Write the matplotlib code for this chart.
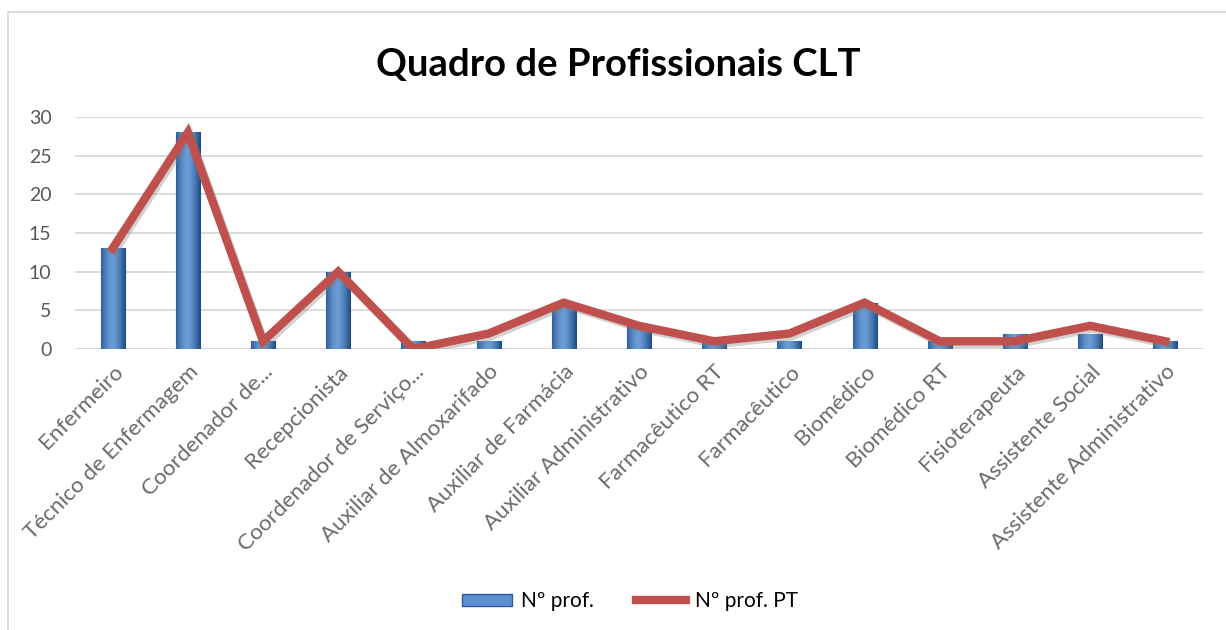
import matplotlib
matplotlib.use("Agg")
import matplotlib.pyplot as plt
import numpy as np
import matplotlib.patheffects as pe
from matplotlib.lines import Line2D
from matplotlib.colors import LinearSegmentedColormap

categories = ["Enfermeiro", "Técnico de Enfermagem", "Coordenador de...", "Recepcionista",
              "Coordenador de Serviço...", "Auxiliar de Almoxarifado", "Auxiliar de Farmácia",
              "Auxiliar Administrativo", "Farmacêutico RT", "Farmacêutico", "Biomédico",
              "Biomédico RT", "Fisioterapeuta", "Assistente Social", "Assistente Administrativo"]
n_prof = [13, 28, 1, 10, 1, 1, 6, 3, 1, 1, 6, 1, 2, 2, 1]
n_prof_pt = [13, 28, 1, 10, 0, 2, 6, 3, 1, 2, 6, 1, 1, 3, 1]
yticks = [0, 5, 10, 15, 20, 25, 30]

plt.rcParams['font.family'] = ['Lato', 'DejaVu Sans']

W, H = 1226, 630
fig = plt.figure(figsize=(W / 100, H / 100), dpi=100)
ax = fig.add_axes([75 / W, 1 - 349 / H, (1203 - 75) / W, (349 - 117) / H])

x = np.arange(len(categories))
bars = ax.bar(x, n_prof, width=0.32, color="#4A7EBB", edgecolor="#2E5C92", linewidth=0.8,
              zorder=2, label="Nº prof.")
# cylinder shading
grad = np.linspace(0, 1, 64)
shade = 1 - 0.55 * (2 * np.abs(grad - 0.45)) ** 1.5
cmap = LinearSegmentedColormap.from_list("cyl", ["#1F4E85", "#6C9CD8"])
for b in bars:
    bx, by = b.get_x(), b.get_y()
    bw, bh = b.get_width(), b.get_height()
    im = ax.imshow(shade[None, :], cmap=cmap, vmin=0.4, vmax=1.0, aspect='auto',
                   extent=[bx, bx + bw, by, by + bh], zorder=2.1, interpolation='bicubic')
    im.set_clip_path(b)

ax.plot(x, n_prof_pt, color="#C0504D", linewidth=6, solid_joinstyle='miter', zorder=3,
        label="Nº prof. PT",
        path_effects=[pe.SimpleLineShadow(offset=(1.5, -2), shadow_color='gray', alpha=0.35),
                      pe.Normal()])

ax.set_xlim(-0.5, len(categories) - 0.5)
ax.set_ylim(0, 30)
ax.set_yticks(yticks)
ax.yaxis.grid(True, color="#D9D9D9", linewidth=1.3, zorder=0)
ax.set_axisbelow(True)
for s in ax.spines.values():
    s.set_visible(False)
ax.tick_params(axis='both', length=0, colors="#595959")
ax.tick_params(axis='y', pad=17, labelsize=14)
ax.set_xticks(x)
ax.set_xticklabels(categories, rotation=45, ha='right', rotation_mode='anchor')
ax.tick_params(axis='x', pad=9, labelsize=16, colors="#6a6a6a")

fig.text(618 / W, 1 - 65 / H, "Quadro de Profissionais CLT", ha='center', va='center',
         fontsize=27.5, fontweight='bold', color='black')

handles = [plt.Rectangle((0, 0), 1, 1, facecolor="#5B8FD0", edgecolor="#2E5C92"),
           Line2D([0], [0], color="#C0504D", linewidth=6)]
fig.legend(handles, ["Nº prof.", "Nº prof. PT"], loc='center', bbox_to_anchor=(630 / W, 1 - 601 / H),
           ncol=2, frameon=False, fontsize=15, handlelength=2.4, handleheight=0.5,
           columnspacing=2.0, handletextpad=0.45)

# chart border (top and left visible)
fig.add_artist(Line2D([8 / W, 8 / W], [0, 1 - 12 / H], color="#D9D9D9", linewidth=1.3))
fig.add_artist(Line2D([8 / W, 1], [1 - 12 / H, 1 - 12 / H], color="#D9D9D9", linewidth=1.3))

fig.savefig("out.png", dpi=100, facecolor='white')
